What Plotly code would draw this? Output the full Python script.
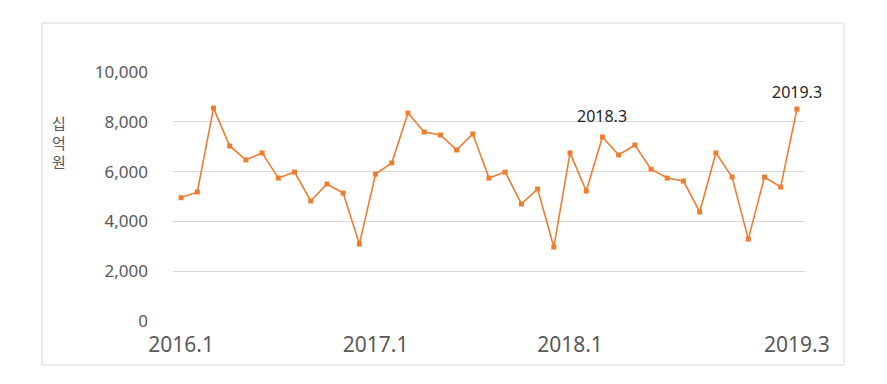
import plotly.graph_objects as go

months = []
for y in (2016, 2017, 2018):
    for m in range(1, 13):
        months.append(f"{y}.{m}")
months += ["2019.1", "2019.2", "2019.3"]

values = [4950, 5180, 8550, 7030, 6470, 6750, 5740, 5980, 4820, 5500, 5140, 3090,
          5900, 6350, 8350, 7590, 7470, 6870, 7510, 5740, 5980, 4700, 5300, 2970,
          6750, 5220, 7390, 6670, 7070, 6100, 5740, 5620, 4380, 6750, 5780, 3290,
          5780, 5380, 8510]

tick_labels = ["2016.1", "2017.1", "2018.1", "2019.3"]
y_ticks = [0, 2000, 4000, 6000, 8000, 10000]
highlight = ["2018.3", "2019.3"]
highlight_shift = [21, 17]
y_title_chars = ["십", "억", "원"]

idx = list(range(len(months)))

fig = go.Figure()
fig.add_trace(go.Scatter(
    x=idx, y=values, mode="lines+markers",
    line=dict(color="#ED7D31", width=1.6),
    marker=dict(symbol="square", size=5, color="#ED7D31"),
    text=months, hovertemplate="%{text}: %{y:,}<extra></extra>", showlegend=False,
))

for lab, sh in zip(highlight, highlight_shift):
    i = months.index(lab)
    fig.add_annotation(x=i, y=values[i], text=lab,
                       showarrow=False, yshift=sh, xanchor="center", yanchor="middle",
                       font=dict(family="Noto Sans", size=16, color="#1f1f1f"))

# vertical stacked title (upright characters)
fig.add_annotation(xref="paper", yref="paper", x=-0.18, y=0.72,
                   text="<br>".join(y_title_chars),
                   showarrow=False, xanchor="center", yanchor="middle", align="center",
                   font=dict(family="Noto Sans CJK KR", size=15, color="#595959"))

fig.add_shape(type="rect", xref="paper", yref="paper",
              x0=-0.2073, x1=1.0617, y0=-0.1767, y1=1.1968,
              line=dict(color="#d9d9d9", width=1), fillcolor="rgba(0,0,0,0)")

fig.update_layout(
    width=887, height=384,
    margin=dict(l=173, r=82, t=72, b=63),
    paper_bgcolor="white", plot_bgcolor="white",
    xaxis=dict(tickmode="array", tickvals=[months.index(t) for t in tick_labels],
               ticktext=tick_labels,
               showgrid=False, showline=False, zeroline=False, ticks="",
               ticklabelstandoff=9,
               tickfont=dict(family="Noto Sans", size=21, color="#595959"),
               range=[-0.5, len(months) - 0.5]),
    yaxis=dict(range=[0, 10000], tickvals=y_ticks, tickformat=",d",
               showgrid=True, gridcolor="#d9d9d9", gridwidth=1,
               zeroline=False, showline=False, ticks="", ticklabelstandoff=24,
               tickfont=dict(family="Noto Sans", size=17, color="#595959")),
)

fig.write_html("out.html")
